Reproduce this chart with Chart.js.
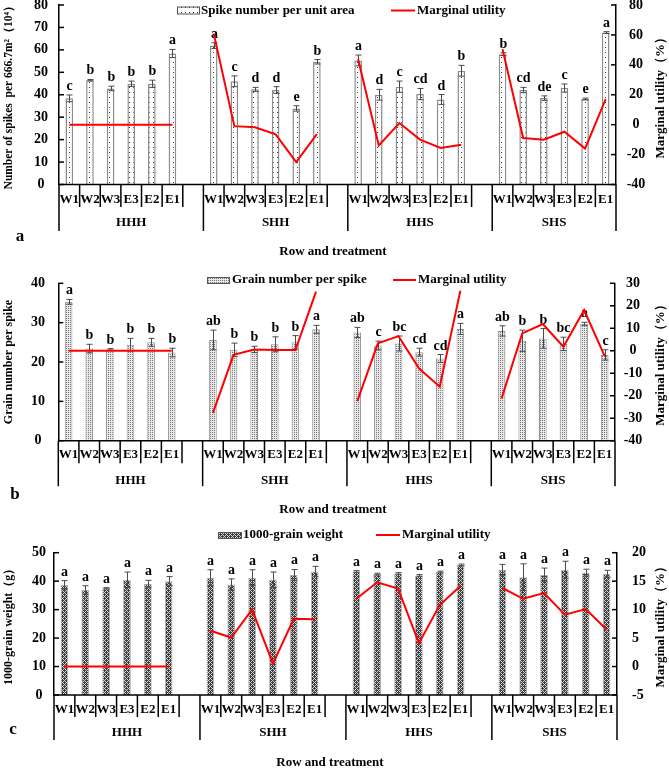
<!DOCTYPE html>
<html><head><meta charset="utf-8">
<script src="https://cdn.jsdelivr.net/npm/chart.js@4.4.1/dist/chart.umd.min.js"></script>
<style>
html,body{margin:0;padding:0;background:#fff;width:669px;height:768px;overflow:hidden}
canvas{position:absolute;left:0;top:0}
</style></head>
<body>
<canvas id="ca" width="669" height="768"></canvas>
<canvas id="cb" width="669" height="768"></canvas>
<canvas id="cc" width="669" height="768"></canvas>
<script>
// ---------------- data ----------------
const groups = ['HHH', 'SHH', 'HHS', 'SHS'];
const treatments = ['W1', 'W2', 'W3', 'E3', 'E2', 'E1'];

// panel a
const spikeNumber = [38.4, 46.5, 42.8, 44.9, 44.9, 58.4, 61.9, 46.0, 42.4, 42.1, 33.9, 54.7, 55.3, 40.0, 43.6, 40.3, 37.9, 50.7, 58.1, 42.1, 38.5, 43.0, 38.1, 67.7];
const spikeNumberSE = [1.5, 0.3, 1.0, 1.2, 1.6, 1.8, 1.3, 2.4, 0.9, 1.5, 1.2, 1.0, 2.4, 2.4, 2.5, 2.5, 2.2, 2.4, 0.6, 1.2, 1.0, 1.8, 0.4, 0.4];
const spikeNumberLetters = ['c', 'b', 'b', 'b', 'b', 'a', 'a', 'c', 'd', 'd', 'e', 'b', 'a', 'd', 'c', 'cd', 'd', 'b', 'b', 'cd', 'de', 'c', 'e', 'a'];
const spikeUtility = [0, 0, 0, 0, 0, 0, 61, -1, -1.8, -6.5, -25, -6.3, 43.8, -13.9, 1.1, -10, -15.6, -13.4, 50.4, -8.9, -10, -4.7, -16, 17.1];
const spikeTicksLeft = [0, 80, 10];
const spikeTicksRight = [-40, 80, 20];

// panel b
const grainNumber = [35.3, 23.4, 23.2, 24.4, 25.0, 22.4, 25.6, 23.1, 23.2, 24.5, 25.0, 28.3, 27.5, 24.2, 24.7, 22.5, 20.9, 28.4, 27.9, 25.4, 26.0, 24.6, 29.7, 21.8];
const grainNumberSE = [0.6, 1.1, 0.2, 1.6, 1.0, 1.1, 2.5, 1.7, 0.8, 1.9, 1.7, 1.0, 1.3, 1.1, 1.9, 1.0, 1.0, 1.4, 1.3, 2.7, 2.5, 1.7, 0.4, 1.3];
const grainNumberLetters = ['a', 'b', 'b', 'b', 'b', 'b', 'ab', 'b', 'b', 'b', 'b', 'a', 'ab', 'c', 'bc', 'cd', 'cd', 'a', 'ab', 'b', 'b', 'bc', 'a', 'c'];
const grainUtility = [0, 0, 0, 0, 0, 0, -27.6, -1.8, 0.6, 0.3, 0.3, 26.3, -22.4, 3.3, 6.5, -7.9, -16, 26.7, -21.2, 7.7, 11.9, 1.8, 18.1, -2.4];
const grainTicksLeft = [0, 40, 10];
const grainTicksRight = [-40, 30, 10];

// panel c
const grainWeight = [38.7, 36.9, 37.5, 40.5, 39.1, 40.0, 41.2, 38.8, 41.2, 40.5, 42.2, 43.4, 43.4, 42.5, 42.7, 42.0, 43.2, 45.7, 44.0, 41.4, 42.2, 44.0, 43.0, 42.6];
const grainWeightSE = [1.5, 1.5, 0.2, 2.7, 1.2, 1.6, 2.8, 2.0, 2.8, 2.7, 1.9, 1.8, 0.3, 0.3, 0.3, 0.3, 0.3, 0.3, 1.9, 4.7, 2.4, 3.0, 1.2, 1.2];
const grainWeightLetters = ['a', 'a', 'a', 'a', 'a', 'a', 'a', 'a', 'a', 'a', 'a', 'a', 'a', 'a', 'a', 'a', 'a', 'a', 'a', 'a', 'a', 'a', 'a', 'a'];
const weightUtility = [0, 0, 0, 0, 0, 0, 6.3, 5.1, 10, 0.5, 8.4, 8.3, 11.9, 14.8, 13.7, 4.1, 10.8, 14.2, 13.8, 11.9, 12.9, 9.1, 10.1, 6.5];
const weightTicksLeft = [0, 50, 10];
const weightTicksRight = [-5, 20, 5];

// ---------------- helpers ----------------
const SERIF = "'Liberation Serif','Times New Roman',serif";
const slotLabels = [];
const groupStart = [];
groups.forEach((g, gi) => {
  groupStart.push(slotLabels.length);
  treatments.forEach(t => slotLabels.push(t));
  if (gi < groups.length - 1) slotLabels.push('');
});
function toSlots(arr) {
  const out = [];
  let k = 0;
  groups.forEach((g, gi) => {
    treatments.forEach(() => out.push(arr[k++]));
    if (gi < groups.length - 1) out.push(null);
  });
  return out;
}
function makePattern(kind) {
  const c = document.createElement('canvas');
  const g = c.getContext('2d');
  if (kind === 'sparse') {
    c.width = 4; c.height = 5;
    g.fillStyle = '#ffffff'; g.fillRect(0, 0, 4, 5);
    g.fillStyle = '#333333'; g.fillRect(1, 2, 1, 1);
  } else if (kind === 'dense') {
    c.width = 2; c.height = 2;
    g.fillStyle = '#e8e8e8'; g.fillRect(0, 0, 2, 2);
    g.fillStyle = '#777777'; g.fillRect(0, 0, 1, 1);
  } else {
    c.width = 4; c.height = 4;
    g.fillStyle = '#3c3c3c'; g.fillRect(0, 0, 4, 4);
    g.fillStyle = '#d4d4d4';
    for (let x = 0; x < 4; x++) for (let y = 0; y < 4; y++) {
      if ((x + y) % 4 === 0 || (x - y + 4) % 4 === 0) g.fillRect(x, y, 1, 1);
    }
  }
  return g.createPattern(c, 'repeat');
}

function line(ctx, x1, y1, x2, y2) { ctx.beginPath(); ctx.moveTo(x1, y1); ctx.lineTo(x2, y2); ctx.stroke(); }

function panelPlugin(P) {
  return {
    id: 'panel' + P.key,
    afterDatasetDraw(chart, args) {
      if (args.index !== 0) return;
      const ctx = chart.ctx, xs = chart.scales.x, ys = chart.scales.y;
      const vals = toSlots(P.values), errs = toSlots(P.errs), lets = toSlots(P.letters);
      ctx.save();
      ctx.strokeStyle = '#4a4a4a'; ctx.lineWidth = 1;
      ctx.fillStyle = '#000';
      ctx.font = 'bold 14px ' + SERIF;
      ctx.textAlign = 'center'; ctx.textBaseline = 'alphabetic';
      vals.forEach((v, i) => {
        if (v == null) return;
        const cx = Math.round(xs.getPixelForValue(i)) + 0.5;
        const yt = ys.getPixelForValue(v + errs[i]);
        const yb = ys.getPixelForValue(v - errs[i]);
        line(ctx, cx, yt, cx, yb);
        line(ctx, cx - 3, yt, cx + 3, yt);
        line(ctx, cx - 3, yb, cx + 3, yb);
        ctx.fillText(lets[i], cx, yt - 5);
      });
      ctx.restore();
    },
    afterDraw(chart) {
      const ctx = chart.ctx, xs = chart.scales.x, ys = chart.scales.y, y1 = chart.scales.y1;
      const ca = chart.chartArea;
      ctx.save();
      ctx.strokeStyle = '#000'; ctx.lineWidth = 1.5;
      // bottom axis
      line(ctx, ca.left, ca.bottom, ca.right, ca.bottom);
      // slot separators
      const n = slotLabels.length;
      const px = i => xs.getPixelForValue(i);
      for (let k = 0; k <= n; k++) {
        const bx = k === 0 ? ca.left : (k === n ? ca.right : (px(k - 1) + px(k)) / 2);
        const isGroup = k === n || groupStart.includes(k);
        line(ctx, bx, ca.bottom, bx, ca.bottom + (isGroup ? P.groupLine : P.slotLine));
      }
      ctx.fillStyle = '#000';
      ctx.textAlign = 'center'; ctx.textBaseline = 'middle';
      ctx.font = 'bold 13px ' + SERIF;
      slotLabels.forEach((l, i) => { if (l) ctx.fillText(l, px(i), ca.bottom + P.wLabel); });
      groups.forEach((g, gi) => {
        const s = groupStart[gi];
        const e = gi < groups.length - 1 ? groupStart[gi + 1] : n;
        const x0 = s === 0 ? ca.left : (px(s - 1) + px(s)) / 2;
        const x1 = e === n ? ca.right : (px(e - 1) + px(e)) / 2;
        ctx.fillText(g, (x0 + x1) / 2, ca.bottom + P.gLabel);
      });
      // inward tick marks + tick labels
      ctx.lineWidth = 1.5;
      ctx.font = 'bold 14px ' + SERIF;
      ys.ticks.forEach(t => {
        const y = ys.getPixelForValue(t.value);
        line(ctx, ca.left, y, ca.left + 5, y);
        ctx.textAlign = 'center';
        ctx.fillText(String(t.value), P.leftTickX, y);
      });
      y1.ticks.forEach(t => {
        const y = y1.getPixelForValue(t.value);
        line(ctx, ca.right - 5, y, ca.right, y);
        ctx.textAlign = P.rightAlign;
        ctx.fillText(String(t.value), P.rightTickX, y);
      });
      // axis titles
      const midY = (ca.top + ca.bottom) / 2;
      ctx.textAlign = 'center';
      ctx.font = P.leftTitleFont;
      ctx.save(); ctx.translate(P.leftTitleX, midY); ctx.rotate(-Math.PI / 2);
      ctx.fillText(P.leftTitle, 0, 0); ctx.restore();
      ctx.font = 'bold 13px ' + SERIF;
      ctx.save(); ctx.translate(P.rightTitleX, midY); ctx.rotate(-Math.PI / 2);
      ctx.fillText('Marginal utility（%）', 0, 0); ctx.restore();
      // row title and panel letter
      ctx.font = 'bold 13px ' + SERIF;
      ctx.fillText('Row and treatment', P.rowTitle[0], P.rowTitle[1]);
      ctx.font = 'bold 17px ' + SERIF;
      ctx.fillText(P.key, P.panelLabel[0], P.panelLabel[1]);
      // legend
      const L = P.legend;
      ctx.fillStyle = P.pattern;
      ctx.fillRect(L.box[0], L.box[1], L.box[2], L.box[3]);
      ctx.strokeStyle = '#555'; ctx.lineWidth = 1;
      ctx.strokeRect(L.box[0] + 0.5, L.box[1] + 0.5, L.box[2], L.box[3]);
      ctx.fillStyle = '#000';
      ctx.font = 'bold 13px ' + SERIF;
      ctx.textAlign = 'left';
      ctx.fillText(P.barName, L.text1, L.y);
      ctx.strokeStyle = '#ff0000'; ctx.lineWidth = 2;
      line(ctx, L.red[0], L.y, L.red[1], L.y);
      ctx.fillText('Marginal utility', L.text2, L.y);
      ctx.restore();
    }
  };
}

function buildChart(id, P) {
  P.pattern = makePattern(P.patternKind);
  return new Chart(document.getElementById(id), {
    data: {
      labels: slotLabels,
      datasets: [
        {
          type: 'bar', label: P.barName, data: toSlots(P.values), yAxisID: 'y', order: 1,
          backgroundColor: P.pattern, borderColor: P.barBorder, borderWidth: P.barBorderWidth,
          barPercentage: 0.37, categoryPercentage: 1.0
        },
        {
          type: 'line', label: 'Marginal utility', data: toSlots(P.utility), yAxisID: 'y1', order: 0,
          borderColor: '#ff0000', borderWidth: 2, pointRadius: 0, tension: 0, spanGaps: false, fill: false
        }
      ]
    },
    options: {
      responsive: false, animation: false, devicePixelRatio: 1,
      layout: { padding: { top: P.top, bottom: 768 - P.bottom, left: 0, right: 0 } },
      plugins: { legend: { display: false }, tooltip: { enabled: false } },
      scales: {
        x: { type: 'category', display: false, offset: true },
        y: {
          position: 'left', min: P.ticksLeft[0], max: P.ticksLeft[1],
          ticks: { stepSize: P.ticksLeft[2], display: false },
          grid: { display: false, drawTicks: false },
          border: { display: true, color: '#000', width: 1.5 },
          afterFit(s) { s.width = P.left; }
        },
        y1: {
          position: 'right', min: P.ticksRight[0], max: P.ticksRight[1],
          ticks: { stepSize: P.ticksRight[2], display: false },
          grid: { display: false, drawTicks: false },
          border: { display: true, color: '#000', width: 1.5 },
          afterFit(s) { s.width = 669 - P.right; }
        }
      }
    },
    plugins: [panelPlugin(P)]
  });
}

buildChart('ca', {
  key: 'a', values: spikeNumber, errs: spikeNumberSE, letters: spikeNumberLetters, utility: spikeUtility,
  ticksLeft: spikeTicksLeft, ticksRight: spikeTicksRight,
  barName: 'Spike number per unit area', patternKind: 'sparse', barBorder: '#8c8c8c', barBorderWidth: 1.5,
  left: 59, right: 616, top: 5, bottom: 184.5,
  slotLine: 22.5, groupLine: 46.5, wLabel: 15.5, gLabel: 38.5,
  leftTickX: 41, rightTickX: 636, rightAlign: 'center',
  leftTitle: 'Number of spikes  per 666.7m²（10⁴）', leftTitleFont: 'bold 11.5px ' + SERIF, leftTitleX: 9, rightTitleX: 661,
  rowTitle: [333, 252], panelLabel: [20, 237],
  legend: { box: [177, 6.5, 22, 7], text1: 201, y: 10.5, red: [391, 415], text2: 417 }
});
buildChart('cb', {
  key: 'b', values: grainNumber, errs: grainNumberSE, letters: grainNumberLetters, utility: grainUtility,
  ticksLeft: grainTicksLeft, ticksRight: grainTicksRight,
  barName: 'Grain number per spike', patternKind: 'dense', barBorder: '#909090', barBorderWidth: 1,
  left: 58.3, right: 615, top: 283.3, bottom: 440.7,
  slotLine: 22.5, groupLine: 45.5, wLabel: 13.5, gLabel: 39.5,
  leftTickX: 38, rightTickX: 633, rightAlign: 'center',
  leftTitle: 'Grain number per spike', leftTitleFont: 'bold 12px ' + SERIF, leftTitleX: 9, rightTitleX: 661,
  rowTitle: [333, 510], panelLabel: [15, 495],
  legend: { box: [207, 277, 22, 6], text1: 232, y: 280, red: [393, 416], text2: 418 }
});
buildChart('cc', {
  key: 'c', values: grainWeight, errs: grainWeightSE, letters: grainWeightLetters, utility: weightUtility,
  ticksLeft: weightTicksLeft, ticksRight: weightTicksRight,
  barName: '1000-grain weight', patternKind: 'cross', barBorder: '#b0b0b0', barBorderWidth: 1,
  left: 54, right: 617, top: 552.7, bottom: 695,
  slotLine: 22, groupLine: 45, wLabel: 15, gLabel: 38,
  leftTickX: 39, rightTickX: 632, rightAlign: 'left',
  leftTitle: '1000-grain weight（g）', leftTitleFont: 'bold 12px ' + SERIF, leftTitleX: 9, rightTitleX: 661,
  rowTitle: [330, 763], panelLabel: [13, 730],
  legend: { box: [218, 532, 23, 6], text1: 243, y: 535, red: [376, 400], text2: 402 }
});
</script>
</body></html>
